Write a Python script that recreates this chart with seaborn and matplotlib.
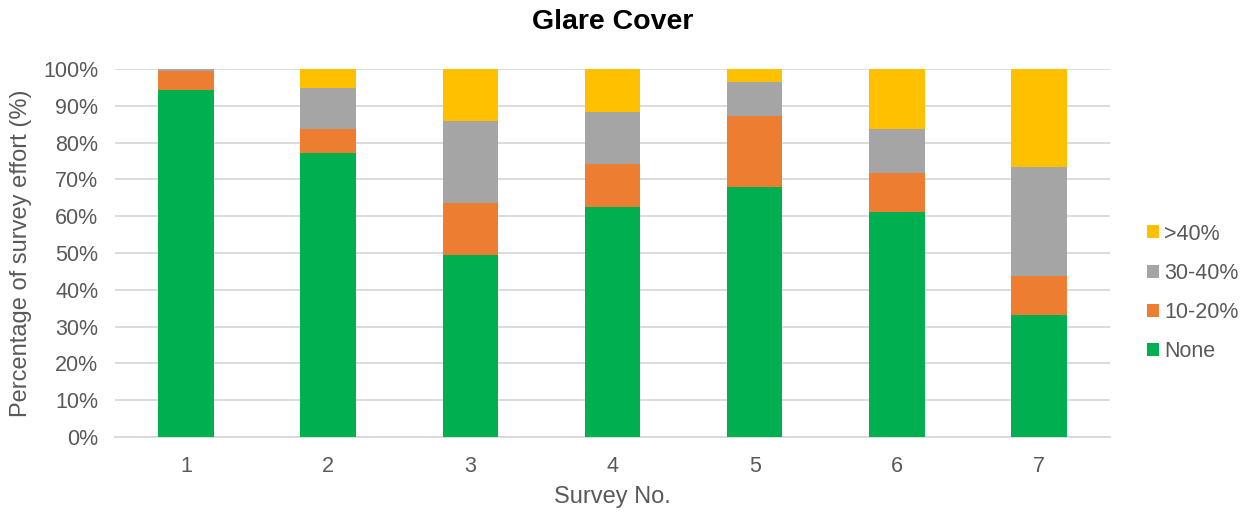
import numpy as np
import pandas as pd
import matplotlib
matplotlib.use("Agg")
import matplotlib.pyplot as plt
from matplotlib.patches import Patch
from matplotlib.ticker import PercentFormatter
import seaborn as sns

# Share of survey effort (%) by glare cover class, per survey
surveys = ["1", "2", "3", "4", "5", "6", "7"]
none_pct = [94.3, 77.1, 49.5, 62.5, 67.9, 61.1, 33.2]
low_pct = [5.1, 6.6, 14.2, 11.8, 19.4, 10.6, 10.6]      # 10-20%
mid_pct = [0.6, 11.1, 22.3, 13.9, 9.2, 12.1, 29.5]      # 30-40%
high_pct = [0.0, 5.2, 14.0, 11.8, 3.5, 16.2, 26.7]      # >40%

classes = ["None", "10-20%", "30-40%", ">40%"]
colors = {"None": "#00B050", "10-20%": "#ED7D31", "30-40%": "#A5A5A5", ">40%": "#FFC000"}

df = pd.DataFrame({"Survey": surveys, "None": none_pct, "10-20%": low_pct,
                   "30-40%": mid_pct, ">40%": high_pct})
# cumulative tops so each stacked segment can be drawn as a full-height bar
cum = df[classes].cumsum(axis=1)

sns.set_theme(style="white")
plt.rcParams["font.family"] = ["Liberation Sans", "DejaVu Sans"]
text_color = "#595959"

fig = plt.figure(figsize=(12.46, 5.14), dpi=100)
ax = fig.add_axes([115 / 1246, 1 - 437 / 514, 995 / 1246, 368 / 514])

for cls in reversed(classes):
    sns.barplot(x=df["Survey"], y=cum[cls], color=colors[cls], width=0.39,
                saturation=1, ax=ax, zorder=3, linewidth=0)

ax.set_xlim(-0.5, 6.5)
ax.set_ylim(0, 100)
ax.set_yticks(np.arange(0, 101, 10))
ax.yaxis.set_major_formatter(PercentFormatter(decimals=0))
ax.grid(axis="y", color="#D9D9D9", linewidth=1.3, zorder=0)
ax.grid(axis="x", visible=False)
for side in ["top", "right", "left"]:
    ax.spines[side].set_visible(False)
ax.spines["bottom"].set_color("#D9D9D9")
ax.spines["bottom"].set_linewidth(1.3)
ax.tick_params(axis="both", colors=text_color, labelsize=15.5, length=0)
ax.tick_params(axis="y", pad=12)
ax.tick_params(axis="x", pad=14)

ax.set_xlabel("Survey No.", fontsize=17, color=text_color, va="center")
ax.xaxis.set_label_coords(0.5, (437 - 497) / 368)
ax.set_ylabel("Percentage of survey effort (%)", fontsize=17, color=text_color, va="center")
ax.yaxis.set_label_coords((21 - 115) / 995, 0.5)
fig.text((115 + 1110) / 2 / 1246, 1 - 22 / 514, "Glare Cover", ha="center", va="center",
         fontsize=20.5, fontweight="bold", color="black")

handles = [Patch(facecolor=colors[c], edgecolor="none") for c in reversed(classes)]
fig.legend(handles, list(reversed(classes)), loc="center left",
           bbox_to_anchor=(1147 / 1246, 1 - 293 / 514), frameon=False,
           borderpad=0, borderaxespad=0,
           fontsize=15.5, labelcolor=text_color, handlelength=0.55, handleheight=0.55,
           handletextpad=0.25, labelspacing=0.85)

fig.savefig("out.png", dpi=100)
